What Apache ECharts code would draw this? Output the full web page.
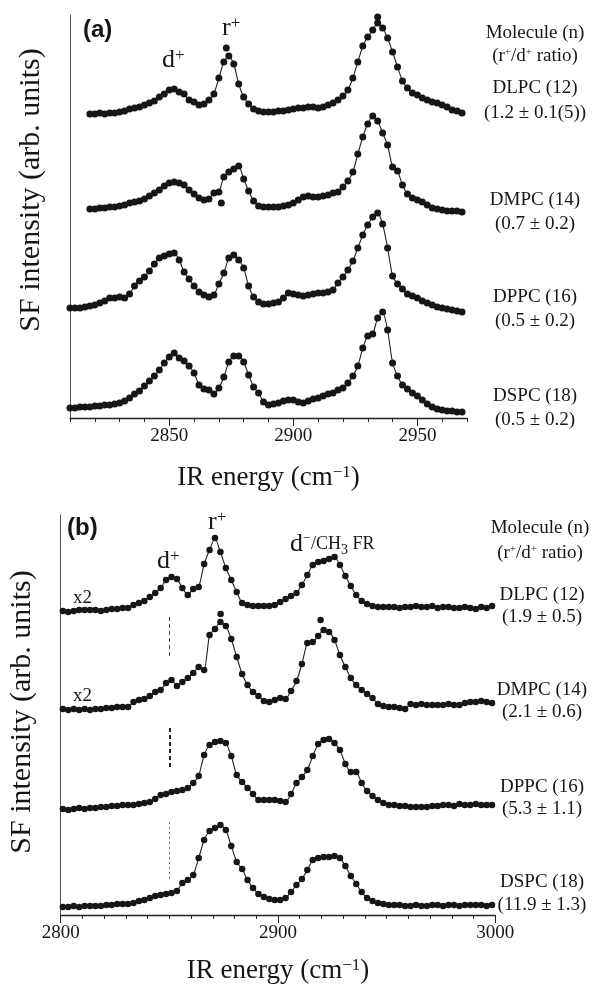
<!DOCTYPE html>
<html>
<head>
<meta charset="utf-8">
<script src="https://cdn.jsdelivr.net/npm/echarts@6/dist/echarts.min.js"></script>
<style>
  html, body { margin: 0; padding: 0; background: #fff; }
  #chart { width: 596px; height: 984px; }
</style>
</head>
<body>
<div id="chart"></div>
<script>
// ---- Wavenumber grids (cm^-1) ----
const energyA = [
  2810, 2812, 2814, 2816, 2818, 2820, 2822, 2824, 2826, 2828,
  2830, 2832, 2834, 2836, 2838, 2840, 2842, 2844, 2846, 2848,
  2850, 2852, 2854, 2856, 2858, 2860, 2862, 2864, 2866, 2868,
  2870, 2872, 2874, 2876, 2878, 2880, 2882, 2884, 2886, 2888,
  2890, 2892, 2894, 2896, 2898, 2900, 2902, 2904, 2906, 2908,
  2910, 2912, 2914, 2916, 2918, 2920, 2922, 2924, 2926, 2928,
  2930, 2932, 2934, 2936, 2938, 2940, 2942, 2944, 2946, 2948,
  2950, 2952, 2954, 2956, 2958, 2960, 2962, 2964, 2966, 2968
];
const energyB = [
  2801, 2803.5, 2806, 2808.5, 2811, 2813.5, 2816, 2818.5, 2821, 2823.5,
  2826, 2828.5, 2831, 2833.5, 2836, 2838.5, 2841, 2843.5, 2846, 2848.5,
  2851, 2853.5, 2856, 2858.5, 2861, 2863.5, 2866, 2868.5, 2871, 2873.5,
  2876, 2878.5, 2881, 2883.5, 2886, 2888.5, 2891, 2893.5, 2896, 2898.5,
  2901, 2903.5, 2906, 2908.5, 2911, 2913.5, 2916, 2918.5, 2921, 2923.5,
  2926, 2928.5, 2931, 2933.5, 2936, 2938.5, 2941, 2943.5, 2946, 2948.5,
  2951, 2953.5, 2956, 2958.5, 2961, 2963.5, 2966, 2968.5, 2971, 2973.5,
  2976, 2978.5, 2981, 2983.5, 2986, 2988.5, 2991, 2993.5, 2996, 2998.5
];

// ---- (a) SF intensities above each trace's baseline (arb. units) ----
const dlpcA = [
  null, null, null, null, 0, 0, 1, 0, 1, 1,
  2, 3, 5, 6, 7, 9, 11, 13, 17, 20,
  24, 25, 22, 20, 14, 12, 9, 10, 14, 20,
  36, 52, 58, 50, 30, 17, 10, 5, 3, 2,
  2, 2, 3, 3, 4, 5, 6, 6, 7, 7,
  6, 7, 9, 11, 14, 18, 24, 36, 52, 68,
  77, 84, 91, 86, 76, 62, 47, 33, 26, 21,
  19, 16, 14, 12, 11, 9, 7, 4, 3, 1
];
const dmpcA = [
  null, null, null, null, 0, 0, 1, 1, 2, 2,
  3, 4, 6, 7, 8, 10, 13, 16, 19, 23,
  26, 27, 26, 24, 19, 15, 11, 9, 10, 16,
  17, 32, 37, 40, 43, 30, 18, 8, 3, 2,
  2, 2, 2, 3, 4, 6, 9, 12, 13, 12,
  12, 13, 14, 16, 17, 22, 28, 37, 55, 72,
  85, 93, 88, 76, 64, 42, 38, 24, 15, 11,
  9, 7, 4, 1, 0, -1, -2, -2, -2, -3
];
const dppcA = [
  0, 0, 0, 1, 2, 3, 5, 7, 10, 10,
  11, 10, 14, 22, 27, 31, 37, 44, 50, 52,
  54, 55, 48, 36, 29, 22, 16, 13, 11, 13,
  24, 35, 50, 53, 48, 40, 22, 11, 6, 4,
  4, 5, 6, 10, 15, 14, 13, 12, 13, 14,
  15, 15, 16, 18, 25, 31, 38, 47, 60, 73,
  83, 91, 95, 84, 60, 32, 24, 19, 14, 12,
  10, 7, 5, 3, 1, 0, -1, -2, -3, -4
];
const dspcA = [
  0, 0, 1, 1, 1, 2, 2, 3, 3, 4,
  5, 7, 10, 14, 17, 22, 27, 32, 38, 45,
  51, 55, 50, 47, 42, 35, 23, 19, 18, 14,
  20, 31, 46, 52, 52, 46, 33, 21, 15, 6,
  3, 4, 5, 7, 8, 8, 6, 5, 7, 9,
  10, 12, 14, 15, 18, 20, 25, 32, 42, 60,
  72, 74, 90, 96, 78, 45, 32, 23, 19, 15,
  12, 8, 4, 1, -1, -2, -3, -3, -4, -4
];
// points lying off the fitted curve: [energy, intensity]
const dlpcAStray = [[2873, 66], [2934, 97]];
const dmpcAStray = [[2871, 6]];

// ---- (b) SF intensities above each trace's baseline (arb. units) ----
const dlpcB = [
  -1, -2, -1, 0, 0, 0, 0, -1, 0, 1,
  1, 2, 2, 5, 7, 9, 13, 17, 22, 30,
  33, 31, 22, 15, 21, 23, 46, 60, 72, 58,
  42, 30, 18, 7, 5, 4, 4, 4, 4, 5,
  8, 11, 14, 17, 25, 35, 45, 48, 49, 51,
  53, 45, 34, 24, 15, 9, 6, 4, 3, 3,
  3, 3, 2, 3, 3, 4, 3, 3, 4, 2,
  3, 3, 2, 2, 3, 2, 1, 3, 2, 4
];
const dmpcB = [
  0, -1, 0, -1, 0, -1, 0, 0, 1, 1,
  2, 2, 2, 7, 9, 10, 13, 17, 19, 26,
  29, 23, 27, 31, 36, 42, 39, 74, 80, 87,
  83, 70, 52, 35, 24, 17, 13, 8, 7, 9,
  11, 10, 18, 28, 45, 66, 67, 73, 79, 77,
  69, 54, 42, 31, 24, 19, 15, 11, 5, 3,
  2, 2, 1, 0, 5, 4, 5, 4, 4, 4,
  4, 5, 4, 4, 6, 7, 7, 8, 7, 6
];
const dppcB = [
  -1, -2, -1, 0, -1, 0, 0, 1, 1, 2,
  2, 3, 3, 3, 4, 5, 6, 9, 13, 14,
  16, 17, 18, 20, 25, 32, 53, 63, 66, 67,
  65, 52, 33, 26, 20, 14, 8, 8, 8, 8,
  7, 6, 14, 25, 31, 38, 52, 64, 68, 69,
  65, 58, 44, 36, 36, 25, 17, 12, 8, 5,
  3, 3, 2, 2, 1, 1, 1, 1, 2, 2,
  3, 3, 2, 4, 3, 3, 4, 3, 3, 3
];
const dspcB = [
  -1, -1, 0, -1, 0, 0, 0, 0, 1, 1,
  2, 2, 2, 3, 5, 6, 8, 10, 11, 12,
  13, 15, 23, 26, 31, 48, 66, 75, 78, 81,
  76, 60, 44, 37, 26, 18, 12, 9, 7, 6,
  6, 8, 14, 21, 27, 36, 46, 48, 49, 49,
  50, 48, 40, 30, 22, 14, 8, 5, 3, 2,
  1, 1, 1, 0, 0, 1, 0, 0, 1, 1,
  0, 1, 1, 0, 1, 1, 1, 1, 0, 1
];
const dmpcBStray = [[2873.6, 95], [2919.6, 89]];

// ---- Labels ----
const moleculesA = ['DLPC (12)', 'DMPC (14)', 'DPPC (16)', 'DSPC (18)'];
const ratiosA = ['(1.2 \u00b1 0.1(5))', '(0.7 \u00b1 0.2)', '(0.5 \u00b1 0.2)', '(0.5 \u00b1 0.2)'];
const moleculesB = ['DLPC (12)', 'DMPC (14)', 'DPPC (16)', 'DSPC (18)'];
const ratiosB = ['(1.9 \u00b1 0.5)', '(2.1 \u00b1 0.6)', '(5.3 \u00b1 1.1)', '(11.9 \u00b1 1.3)'];
const majorTicksA = [2850, 2900, 2950];
const majorTicksB = [2800, 2900, 3000];

// ---- Layout ----
const SERIF = '"Liberation Serif", "Times New Roman", serif';
const INK = '#161616';
const gridA = { left: 70, top: 15, width: 397, height: 403 };
const gridB = { left: 60.7, top: 515, width: 434.6, height: 400 };
// vertical stacking offsets of the traces
const offsetsA = [304, 209, 110, 10];
const offsetsB = [305, 206, 107, 9];
// 2850 cm^-1 guide marks in (b): [from, to] in y units, style
const guidesB = [
  { x: 2850, y: [298, 258], width: 1, type: [4, 3], color: '#444' },
  { x: 2850, y: [187, 147], width: 2, type: [4, 3], color: '#222' },
  { x: 2850, y: [93, 35], width: 1, type: [2, 3], color: '#777' }
];

const spectraA = [
  { values: dlpcA, stray: dlpcAStray },
  { values: dmpcA, stray: dmpcAStray },
  { values: dppcA, stray: [] },
  { values: dspcA, stray: [] }
];
const spectraB = [
  { values: dlpcB, stray: [] },
  { values: dmpcB, stray: dmpcBStray },
  { values: dppcB, stray: [] },
  { values: dspcB, stray: [] }
];

function traceSeries(spec, energies, offset, xIdx, yIdx, dot) {
  const pts = [];
  energies.forEach((e, i) => {
    const v = spec.values[i];
    if (v !== null && v !== undefined) pts.push([e, v + offset]);
  });
  const out = [{
    type: 'line', xAxisIndex: xIdx, yAxisIndex: yIdx, data: pts,
    symbol: 'circle', symbolSize: dot, showAllSymbol: true,
    itemStyle: { color: INK, borderWidth: 0, opacity: 1 },
    lineStyle: { color: '#222', width: 1.1 },
    smooth: 0.2, silent: true, animation: false, z: 3
  }];
  if (spec.stray.length) {
    out.push({
      type: 'scatter', xAxisIndex: xIdx, yAxisIndex: yIdx,
      data: spec.stray.map(p => [p[0], p[1] + offset]),
      symbol: 'circle', symbolSize: dot,
      itemStyle: { color: INK, opacity: 1 }, silent: true, animation: false, z: 4
    });
  }
  return out;
}

const series = [];
spectraA.forEach((s, k) => series.push(...traceSeries(s, energyA, offsetsA[k], 0, 0, 7)));
spectraB.forEach((s, k) => series.push(...traceSeries(s, energyB, offsetsB[k], 2, 1, 6.5)));
// guide marks
series.push({
  type: 'line', xAxisIndex: 2, yAxisIndex: 1, data: [], silent: true, animation: false,
  markLine: {
    symbol: 'none', silent: true, animation: false, label: { show: false },
    data: guidesB.map(g => [
      { coord: [g.x, g.y[0]], lineStyle: { type: g.type, width: g.width, color: g.color } },
      { coord: [g.x, g.y[1]] }
    ])
  }
});

function minorAxis(gridIndex, min, max) {
  return {
    type: 'value', gridIndex, min, max, interval: 10, position: 'bottom',
    axisLine: { show: true, onZero: false, lineStyle: { color: '#222', width: 1.3 } },
    axisTick: { show: true, length: 4, lineStyle: { color: '#222', width: 1 } },
    axisLabel: { show: false }, splitLine: { show: false }
  };
}
function majorAxis(gridIndex, min, max, ticks, gap) {
  return {
    type: 'value', gridIndex, min, max, position: 'bottom',
    axisLine: { show: false, onZero: false },
    axisTick: { show: true, customValues: ticks, length: 8, lineStyle: { color: '#222', width: 1 } },
    axisLabel: {
      show: true, customValues: ticks, formatter: v => String(v),
      fontFamily: SERIF, fontSize: 19, color: INK, margin: 9
    },
    splitLine: { show: false },
    name: 'IR energy (cm{sup|\u22121})', nameLocation: 'middle', nameGap: gap,
    nameTextStyle: {
      fontFamily: SERIF, fontSize: 27, color: INK,
      rich: { sup: { fontFamily: SERIF, fontSize: 17, color: INK, verticalAlign: 'top' } }
    }
  };
}
function yAxis(gridIndex, max) {
  return {
    type: 'value', gridIndex, min: 0, max, position: 'left',
    axisLine: { show: true, onZero: false, lineStyle: { color: '#555', width: 1 } },
    axisTick: { show: false }, axisLabel: { show: false }, splitLine: { show: false }
  };
}

// ---- Text annotations ----
function txt(x, y, text, size, align, extra) {
  return {
    type: 'text', x, y, silent: true,
    style: Object.assign({
      text, font: size + 'px ' + SERIF, fill: INK,
      align: align || 'left', textAlign: align || 'left',
      verticalAlign: 'middle', textVerticalAlign: 'middle'
    }, extra || {})
  };
}
const supRich = (base, sup) => ({
  b: { fontFamily: SERIF, fontSize: base, color: INK },
  s: { fontFamily: SERIF, fontSize: sup, color: INK, verticalAlign: 'top' },
  u: { fontFamily: SERIF, fontSize: sup, color: INK, verticalAlign: 'bottom' }
});

const graphics = [];
// panel tags
graphics.push(txt(83, 30, '(a)', 24, 'left', { font: 'bold 24px "Liberation Sans", Arial, sans-serif' }));
graphics.push(txt(67, 528, '(b)', 24, 'left', { font: 'bold 24px "Liberation Sans", Arial, sans-serif' }));
// y titles
[[31, 190], [22, 712]].forEach(p => {
  const g = txt(0, 0, 'SF intensity (arb. units)', 30, 'center');
  g.x = p[0]; g.y = p[1]; g.rotation = Math.PI / 2;
  graphics.push(g);
});
// peak assignments (a)
graphics.push(txt(162, 60, '{b|d}{s|+}', 26, 'left', { rich: supRich(26, 17) }));
graphics.push(txt(222, 28, '{b|r}{s|+}', 26, 'left', { rich: supRich(26, 17) }));
// peak assignments (b)
graphics.push(txt(157, 561, '{b|d}{s|+}', 26, 'left', { rich: supRich(26, 17) }));
graphics.push(txt(208, 522, '{b|r}{s|+}', 26, 'left', { rich: supRich(26, 17) }));
graphics.push(txt(290, 544, '{b|d}{s|\u2212}{m|/CH}{u|3}{m| FR}', 26, 'left', {
  rich: Object.assign(supRich(26, 14), { m: { fontFamily: SERIF, fontSize: 18, color: INK } })
}));
graphics.push(txt(73, 598, 'x2', 19, 'left'));
graphics.push(txt(73, 696, 'x2', 19, 'left'));
// legend columns
const headRich = { rich: { b: { fontFamily: SERIF, fontSize: 19, color: INK }, s: { fontFamily: SERIF, fontSize: 11, color: INK, verticalAlign: 'top' } } };
graphics.push(txt(535, 33, 'Molecule (n)', 19, 'center'));
graphics.push(txt(535, 56, '{b|(r}{s|+}{b|/d}{s|+}{b| ratio)}', 19, 'center', headRich));
const rowsA = [[88, 113], [200, 224], [297, 321], [396, 420]];
moleculesA.forEach((m, i) => {
  graphics.push(txt(535, rowsA[i][0], m, 19, 'center'));
  graphics.push(txt(535, rowsA[i][1], ratiosA[i], 19, 'center'));
});
graphics.push(txt(540, 528, 'Molecule (n)', 19, 'center'));
graphics.push(txt(540, 553, '{b|(r}{s|+}{b|/d}{s|+}{b| ratio)}', 19, 'center', headRich));
const rowsB = [[595, 617], [690, 712], [787, 809], [882, 905]];
moleculesB.forEach((m, i) => {
  graphics.push(txt(542, rowsB[i][0], m, 19, 'center'));
  graphics.push(txt(542, rowsB[i][1], ratiosB[i], 19, 'center'));
});

const chart = echarts.init(document.getElementById('chart'), null, { renderer: 'canvas' });
chart.setOption({
  animation: false,
  backgroundColor: '#fff',
  grid: [
    Object.assign({ containLabel: false, outerBoundsMode: 'none' }, gridA),
    Object.assign({ containLabel: false, outerBoundsMode: 'none' }, gridB)
  ],
  xAxis: [
    minorAxis(0, 2810, 2970),
    majorAxis(0, 2810, 2970, majorTicksA, 46),
    minorAxis(1, 2800, 3000),
    majorAxis(1, 2800, 3000, majorTicksB, 42)
  ],
  yAxis: [yAxis(0, gridA.height), yAxis(1, gridB.height)],
  series,
  graphic: graphics
});
</script>
</body>
</html>
